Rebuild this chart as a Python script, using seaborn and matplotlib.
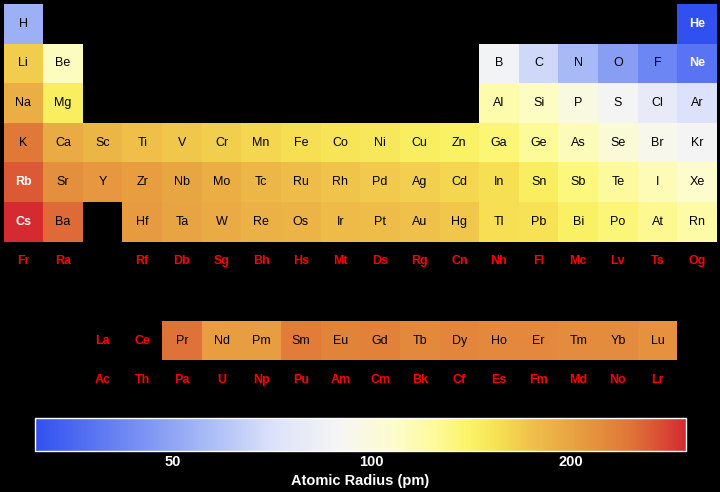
import numpy as np
import pandas as pd
import matplotlib
matplotlib.use("Agg")
import matplotlib.pyplot as plt
import seaborn as sns
from matplotlib.colors import LinearSegmentedColormap, LogNorm
from matplotlib.cm import ScalarMappable
from matplotlib.ticker import FixedLocator, FixedFormatter, NullFormatter

# ---------------- data ----------------
symbols = [
    "H", "He",
    "Li", "Be", "B", "C", "N", "O", "F", "Ne",
    "Na", "Mg", "Al", "Si", "P", "S", "Cl", "Ar",
    "K", "Ca", "Sc", "Ti", "V", "Cr", "Mn", "Fe", "Co", "Ni", "Cu", "Zn", "Ga", "Ge", "As", "Se", "Br", "Kr",
    "Rb", "Sr", "Y", "Zr", "Nb", "Mo", "Tc", "Ru", "Rh", "Pd", "Ag", "Cd", "In", "Sn", "Sb", "Te", "I", "Xe",
    "Cs", "Ba", "Hf", "Ta", "W", "Re", "Os", "Ir", "Pt", "Au", "Hg", "Tl", "Pb", "Bi", "Po", "At", "Rn",
    "Fr", "Ra", "Rf", "Db", "Sg", "Bh", "Hs", "Mt", "Ds", "Rg", "Cn", "Nh", "Fl", "Mc", "Lv", "Ts", "Og",
    "La", "Ce", "Pr", "Nd", "Pm", "Sm", "Eu", "Gd", "Tb", "Dy", "Ho", "Er", "Tm", "Yb", "Lu",
    "Ac", "Th", "Pa", "U", "Np", "Pu", "Am", "Cm", "Bk", "Cf", "Es", "Fm", "Md", "No", "Lr",
]
groups = (
    [1, 18]
    + [1, 2, 13, 14, 15, 16, 17, 18]
    + [1, 2, 13, 14, 15, 16, 17, 18]
    + list(range(1, 19))
    + list(range(1, 19))
    + [1, 2] + list(range(4, 19))
    + [1, 2] + list(range(4, 19))
    + list(range(3, 18))
    + list(range(3, 18))
)
rows = (
    [1] * 2 + [2] * 8 + [3] * 8 + [4] * 18 + [5] * 18 + [6] * 17 + [7] * 17
    + [9] * 15 + [10] * 15
)
nan = np.nan
radius = [
    53, 31,
    167, 112, 87, 67, 56, 48, 42, 38,
    190, 145, 118, 111, 98, 88, 79, 71,
    243, 194, 184, 176, 171, 166, 161, 156, 152, 149, 145, 142, 136, 125, 114, 103, 94, 88,
    265, 219, 212, 206, 198, 190, 183, 178, 173, 169, 165, 161, 156, 145, 133, 123, 115, 108,
    298, 253, 208, 200, 193, 188, 185, 180, 177, 174, 171, 156, 154, 143, 135, 127, 120,
    nan, nan, nan, nan, nan, nan, nan, nan, nan, nan, nan, nan, nan, nan, nan, nan, nan,
    nan, nan, 247, 206, 205, 238, 231, 233, 225, 228, 226, 226, 222, 222, 217,
    nan, nan, nan, nan, nan, nan, nan, nan, nan, nan, nan, nan, nan, nan, nan,
]
cbar_ticks = [50, 100, 200]
cbar_minor = [40, 60, 70, 80, 90, 150]

df = pd.DataFrame({"symbol": symbols, "group": groups, "row": rows, "radius": radius})
grid = df.pivot_table(index="row", columns="group", values="radius", aggfunc="first", dropna=False)
grid = grid.reindex(index=range(1, 11), columns=range(1, 19))

# ---------------- colormap ----------------
vmin, vmax = 31, 298
nodes = [
    (31, "#3050F0"), (53, "#9bb0f5"), (71, "#dce2fa"), (90, "#f6f6f4"),
    (108, "#fdfccc"), (125, "#fdfa98"), (140, "#fbf468"), (156, "#f6df52"),
    (175, "#efc04a"), (200, "#e8a442"), (243, "#e07838"), (265, "#dc5a36"),
    (298, "#d42a30"),
]
lmin, lmax = np.log(vmin), np.log(vmax)
cmap = LinearSegmentedColormap.from_list(
    "radius", [((np.log(v) - lmin) / (lmax - lmin), c) for v, c in nodes], N=512
)
norm = LogNorm(vmin=vmin, vmax=vmax)

# ---------------- figure ----------------
sns.set_style("dark")
plt.rcParams["font.family"] = ["Liberation Sans", "DejaVu Sans"]

W, H = 720, 492
fig = plt.figure(figsize=(W / 100, H / 100), dpi=100, facecolor="black")
ax = fig.add_axes([3.5 / W, 1 - 400 / H, 713.5 / W, 396 / H])
ax.set_facecolor("black")
sns.heatmap(grid, ax=ax, cmap=cmap, norm=norm, cbar=False, mask=grid.isna(),
            xticklabels=False, yticklabels=False, linewidths=0)
ax.set_xlabel("")
ax.set_ylabel("")
for s in ax.spines.values():
    s.set_visible(False)

for sym, g, r, val in zip(symbols, groups, rows, radius):
    x, y = g - 0.5, r - 0.5
    if np.isnan(val):
        ax.text(x, y, sym, ha="center", va="center", color="#ff0000",
                fontsize=9, fontweight="bold")
    else:
        col = "white" if (val < 40 or val > 255) else "black"
        wt = "bold" if col == "white" else "normal"
        ax.text(x, y, sym, ha="center", va="center", color=col,
                fontsize=9, fontweight=wt)

# ---------------- colorbar ----------------
cax = fig.add_axes([35 / W, 1 - 451.3 / H, 650.7 / W, 33 / H])
sm = ScalarMappable(norm=norm, cmap=cmap)
cb = fig.colorbar(sm, cax=cax, orientation="horizontal")
cb.outline.set_edgecolor("white")
cb.outline.set_linewidth(1.0)
cax.xaxis.set_major_locator(FixedLocator(cbar_ticks))
cax.xaxis.set_major_formatter(FixedFormatter([str(t) for t in cbar_ticks]))
cax.xaxis.set_minor_locator(FixedLocator(cbar_minor))
cax.xaxis.set_minor_formatter(NullFormatter())
cax.tick_params(axis="x", which="major", direction="in", length=6, width=1,
                colors="white", labelsize=10.5, pad=3)
cax.tick_params(axis="x", which="minor", direction="in", length=3.5, width=1,
                colors="white")
for lab in cax.get_xticklabels():
    lab.set_fontweight("bold")
cax.set_xlabel("Atomic Radius (pm)", color="white", fontsize=10.5,
               fontweight="bold", labelpad=3)

fig.savefig("out.png", dpi=100, facecolor="black")
